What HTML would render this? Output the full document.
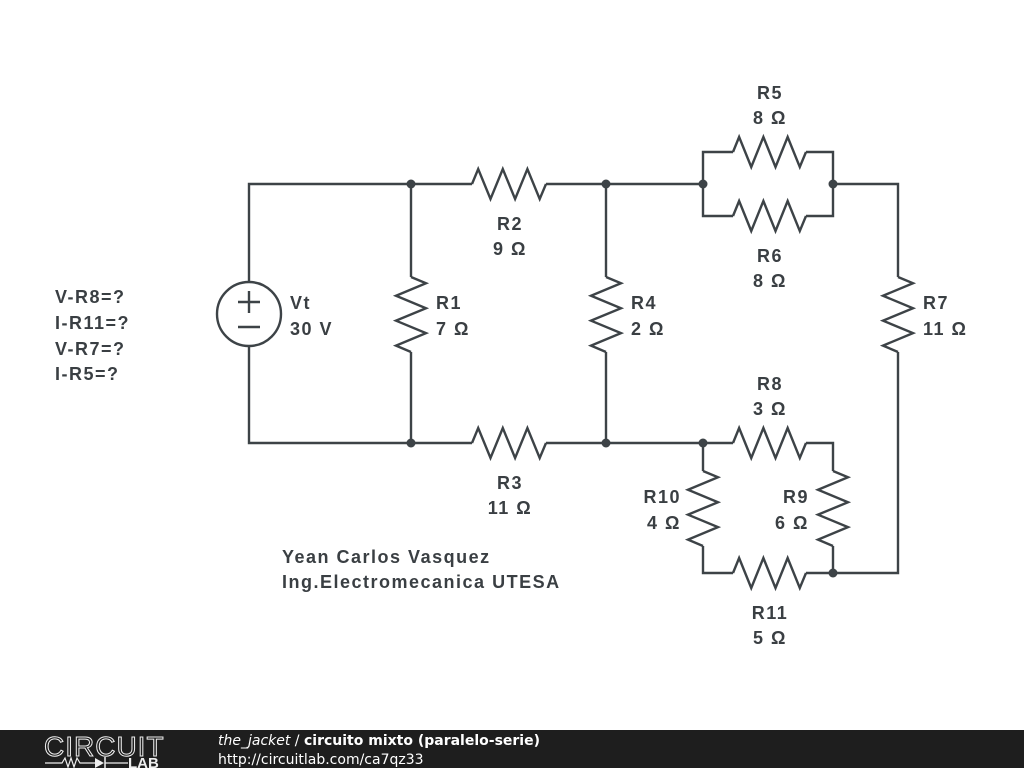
<!DOCTYPE html>
<html><head><meta charset="utf-8"><style>
body{margin:0;width:1024px;height:768px;background:#fff;overflow:hidden;position:relative;font-family:"Liberation Sans",sans-serif}
svg{position:absolute;left:0;top:0}
.t{font-family:"Liberation Sans",sans-serif;font-weight:bold;font-size:18px;fill:#3a3f43;letter-spacing:1.5px}
</style></head><body>
<svg id="s" width="1024" height="768" viewBox="0 0 1024 768">
<g fill="none" stroke="#3d4347" stroke-width="2.4" stroke-linejoin="miter" id="w">
<polyline points="249,282 249,184 472,184"/>
<polyline points="546,184 703,184"/>
<polyline points="249,346 249,443 472,443"/>
<polyline points="546,443 733,443"/>
<polyline points="806,443 833,443 833,471"/>
<polyline points="411,184 411,277"/><polyline points="411,352 411,443"/>
<polyline points="606,184 606,277"/><polyline points="606,352 606,443"/>
<polyline points="733,152 703,152 703,216 733,216"/>
<polyline points="806,152 833,152 833,216 806,216"/>
<polyline points="833,184 898,184 898,277"/>
<polyline points="898,352 898,573 806,573"/>
<polyline points="733,573 703,573 703,546"/>
<polyline points="703,443 703,471"/>
<polyline points="833,546 833,573"/>
<circle cx="249" cy="314" r="32"/>
<line x1="238" y1="302" x2="260" y2="302"/><line x1="249" y1="291" x2="249" y2="313"/>
<line x1="238" y1="327" x2="260" y2="327"/>
</g>
<g fill="#3d4347">
<circle cx="411" cy="184" r="4.5"/><circle cx="606" cy="184" r="4.5"/><circle cx="703" cy="184" r="4.5"/><circle cx="833" cy="184" r="4.5"/>
<circle cx="411" cy="443" r="4.5"/><circle cx="606" cy="443" r="4.5"/><circle cx="703" cy="443" r="4.5"/><circle cx="833" cy="573" r="4.5"/>
</g>
<g class="t">
<text x="290" y="309" class="t">Vt</text><text x="290" y="335" class="t">30 V</text>
<text x="436" y="309" class="t">R1</text><text x="436" y="335" class="t">7 Ω</text>
<text x="631" y="309" class="t">R4</text><text x="631" y="335" class="t">2 Ω</text>
<text x="923" y="309" class="t">R7</text><text x="923" y="335" class="t">11 Ω</text>
<text x="510" y="230" text-anchor="middle" class="t">R2</text><text x="510" y="255" text-anchor="middle" class="t">9 Ω</text>
<text x="510" y="489" text-anchor="middle" class="t">R3</text><text x="510" y="514" text-anchor="middle" class="t">11 Ω</text>
<text x="770" y="99" text-anchor="middle" class="t">R5</text><text x="770" y="124" text-anchor="middle" class="t">8 Ω</text>
<text x="770" y="262" text-anchor="middle" class="t">R6</text><text x="770" y="287" text-anchor="middle" class="t">8 Ω</text>
<text x="770" y="390" text-anchor="middle" class="t">R8</text><text x="770" y="415" text-anchor="middle" class="t">3 Ω</text>
<text x="770" y="619" text-anchor="middle" class="t">R11</text><text x="770" y="644" text-anchor="middle" class="t">5 Ω</text>
<text x="681" y="503" text-anchor="end" class="t">R10</text><text x="681" y="529" text-anchor="end" class="t">4 Ω</text>
<text x="809" y="503" text-anchor="end" class="t">R9</text><text x="809" y="529" text-anchor="end" class="t">6 Ω</text>
<text x="55" y="303" class="t">V-R8=?</text><text x="55" y="329" class="t">I-R11=?</text>
<text x="55" y="355" class="t">V-R7=?</text><text x="55" y="380" class="t">I-R5=?</text>
<text x="282" y="563" class="t">Yean Carlos Vasquez</text>
<text x="282" y="588" class="t">Ing.Electromecanica UTESA</text>
</g>
<rect x="0" y="730" width="1024" height="38" fill="#1e1e1e"/>
<text x="44" y="756" font-family="Liberation Sans,sans-serif" font-size="28" fill="none" stroke="#eee" stroke-width="1" letter-spacing="1">CIRCUIT</text>
<polyline points="45,763 62,763 65,758 68,767 71,758 74,767 77,758 80,763 95,763" fill="none" stroke="#eee" stroke-width="1.2"/>
<polygon points="95,758 95,768 104,763" fill="#eee"/><line x1="105" y1="757" x2="105" y2="768" stroke="#eee" stroke-width="1.5"/>
<line x1="105" y1="763" x2="128" y2="763" stroke="#eee" stroke-width="1.2"/>
<text x="128" y="768" font-family="Liberation Sans,sans-serif" font-weight="bold" font-size="15" fill="#eee">LAB</text>
<text x="218" y="745" font-family="DejaVu Sans,sans-serif" font-size="14" fill="#fff"><tspan font-style="italic">the_jacket</tspan> / <tspan font-weight="bold">circuito mixto (paralelo-serie)</tspan></text>
<text x="218" y="764" font-family="DejaVu Sans,sans-serif" font-size="14" fill="#fff">http://circuitlab.com/ca7qz33</text>
</svg>
<script>
var g=document.getElementById('w'),ns='http://www.w3.org/2000/svg';
function R(x1,y1,x2,y2){var dx=x2-x1,dy=y2-y1,L=Math.hypot(dx,dy),ux=dx/L,uy=dy/L,px=-uy,py=ux,p=[[x1,y1]];
for(var k=0;k<6;k++){var t=(6.2+12.3*k)/74*L,s=(k%2?1:-1)*15;p.push([x1+ux*t+px*s,y1+uy*t+py*s]);}
p.push([x2,y2]);var e=document.createElementNS(ns,'polyline');e.setAttribute('points',p.map(a=>a.join(',')).join(' '));g.appendChild(e);}
R(472,184,546,184);R(472,443,546,443);R(733,152,806,152);R(733,216,806,216);R(733,443,806,443);R(733,573,806,573);
R(411,277,411,352);R(606,277,606,352);R(898,277,898,352);R(703,471,703,546);R(833,471,833,546);
</script>
</body></html>
